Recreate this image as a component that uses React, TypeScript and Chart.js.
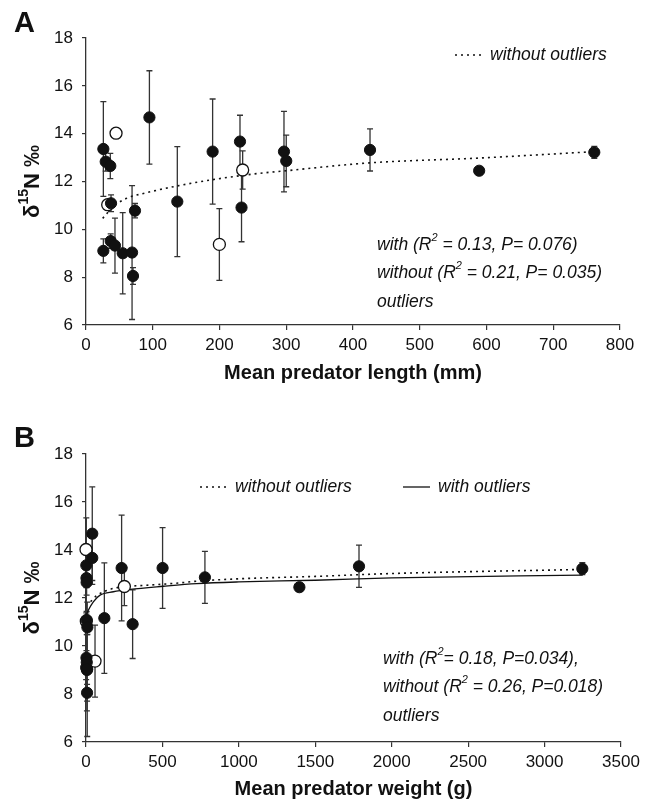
import React, { useEffect, useRef } from "react";
import { Chart, registerables } from "chart.js";
Chart.register(...registerables);

// ---- data ----
const lengthMm = [26, 29.5, 36.4, 37.5, 26, 37, 43.4, 55, 69, 70.4, 73.4, 95, 136.8, 189.7, 230.7, 233, 296.6, 300, 425.5, 589, 761.5, 45, 32.5, 199.8, 234.7];
const weightG = [2, 3, 4, 4, 1, 3, 5, 6, 8, 7, 9, 41, 120, 233, 41, 305, 501, 778, 1786, 1396, 3247, 0, 2, 59, 251];
const d15N = [13.36, 12.83, 12.65, 11.09, 9.1, 9.51, 9.32, 9.0, 9.03, 8.05, 10.78, 14.68, 11.16, 13.25, 13.67, 10.91, 13.25, 12.86, 13.32, 12.45, 13.22, 14.02, 11.03, 9.37, 12.48];
const sdN = [1.98, 0.4, 0.53, 0.35, 0.5, 0.3, 1.15, 1.7, 2.8, 0.35, 0.3, 1.95, 2.3, 2.2, 1.1, 1.43, 1.68, 1.08, 0.88, 0, 0.25, 0, 0, 1.5, 0.8];
const isOutlier = [0, 0, 0, 0, 0, 0, 0, 0, 0, 0, 0, 0, 0, 0, 0, 0, 0, 0, 0, 0, 0, 1, 1, 1, 1];

// fitted curves
const fitA_withoutX = [25, 43, 61, 86, 136, 186, 250, 300, 425, 589, 762];
const fitA_withoutY = [10.46, 11.0, 11.3, 11.5, 11.81, 12.06, 12.31, 12.45, 12.78, 12.98, 13.25];
const fitB_withX = [2, 15, 48, 92, 179, 288, 506, 724, 1000, 1500, 2000, 3250];
const fitB_withY = [11.3, 11.49, 11.84, 12.12, 12.26, 12.36, 12.49, 12.6, 12.67, 12.74, 12.84, 12.95];
const fitB_withoutX = [30, 70, 157, 244, 397, 615, 724, 1000, 1500, 2000, 3250];
const fitB_withoutY = [11.85, 12.1, 12.36, 12.47, 12.53, 12.63, 12.7, 12.8, 12.9, 13.02, 13.19];

const yTicks = [6, 8, 10, 12, 14, 16, 18];
const xTicksA = [0, 100, 200, 300, 400, 500, 600, 700, 800];
const xTicksB = [0, 500, 1000, 1500, 2000, 2500, 3000, 3500];

const FONT = '"Liberation Sans", Arial, Helvetica, sans-serif';
const INK = "#111";
const AXIS = "#333";

type Part = { t: string; sup?: boolean };

function drawRich(ctx: CanvasRenderingContext2D, parts: Part[], x: number, y: number, size: number, style: string, center = false) {
  const supSize = Math.round(size * 0.62);
  const widths = parts.map((p) => {
    ctx.font = `${style} ${p.sup ? supSize : size}px ${FONT}`;
    return ctx.measureText(p.t).width;
  });
  const total = widths.reduce((a, b) => a + b, 0);
  let cx = center ? x - total / 2 : x;
  parts.forEach((p, i) => {
    ctx.font = `${style} ${p.sup ? supSize : size}px ${FONT}`;
    ctx.textAlign = "left";
    ctx.textBaseline = "middle";
    ctx.fillText(p.t, cx, p.sup ? y - size * 0.38 : y);
    cx += widths[i];
  });
}

type Panel = {
  xs: number[];
  xMax: number;
  xTicks: number[];
  xTitle: string;
  letter: string;
  letterY: number;
  fits: { x: number[]; y: number[]; dotted: boolean }[];
  legend: { x1: number; x2: number; tx: number; y: number; dotted: boolean; label: string }[];
  note: { x: number; ys: number[]; lines: Part[][] };
  xTitleY: number;
  height: number;
  padTop: number;
  padRight: number;
  xAxisH: number;
};

function makeChart(canvas: HTMLCanvasElement, p: Panel) {
  const filled = p.xs.map((x, i) => ({ x, y: d15N[i] })).filter((_, i) => !isOutlier[i]);
  const open = p.xs.map((x, i) => ({ x, y: d15N[i] })).filter((_, i) => isOutlier[i]);

  const fitSets = p.fits.map((f) => ({
    type: "line" as const,
    data: f.x.map((x, i) => ({ x, y: f.y[i] })),
    showLine: true,
    borderColor: INK,
    borderWidth: f.dotted ? 1.6 : 1.3,
    borderDash: f.dotted ? [2, 4] : [],
    pointRadius: 0,
    cubicInterpolationMode: "monotone" as const,
    fill: false,
    order: 2,
  }));

  const errorBars = {
    id: "errorBars",
    beforeDatasetsDraw(chart: any) {
      const ctx = chart.ctx as CanvasRenderingContext2D;
      const xs = chart.scales.x;
      const ys = chart.scales.y;
      ctx.save();
      ctx.strokeStyle = AXIS;
      ctx.lineWidth = 1.3;
      p.xs.forEach((xv, i) => {
        const s = sdN[i];
        if (!s) return;
        const px = xs.getPixelForValue(xv);
        const top = ys.getPixelForValue(d15N[i] + s);
        const bot = ys.getPixelForValue(d15N[i] - s);
        ctx.beginPath();
        ctx.moveTo(px, top);
        ctx.lineTo(px, bot);
        ctx.moveTo(px - 3, top);
        ctx.lineTo(px + 3, top);
        ctx.moveTo(px - 3, bot);
        ctx.lineTo(px + 3, bot);
        ctx.stroke();
      });
      ctx.restore();
    },
  };

  const texts = {
    id: "texts",
    afterDraw(chart: any) {
      const ctx = chart.ctx as CanvasRenderingContext2D;
      const area = chart.chartArea;
      ctx.save();
      ctx.fillStyle = INK;
      // panel letter
      ctx.font = `bold 29px ${FONT}`;
      ctx.textAlign = "left";
      ctx.textBaseline = "alphabetic";
      ctx.fillText(p.letter, 14, p.letterY);
      // x title
      ctx.font = `bold 20px ${FONT}`;
      ctx.textAlign = "center";
      ctx.textBaseline = "middle";
      ctx.fillText(p.xTitle, (area.left + area.right) / 2, p.xTitleY);
      // y title
      ctx.save();
      ctx.translate(33, (area.top + area.bottom) / 2);
      ctx.rotate(-Math.PI / 2);
      drawRich(ctx, [{ t: "δ" }, { t: "15", sup: true }, { t: "N ‰" }], 0, 0, 22, "bold", true);
      ctx.restore();
      // legend
      p.legend.forEach((l) => {
        ctx.save();
        ctx.strokeStyle = INK;
        ctx.lineWidth = l.dotted ? 1.6 : 1.3;
        ctx.setLineDash(l.dotted ? [2, 4] : []);
        ctx.beginPath();
        ctx.moveTo(l.x1, l.y);
        ctx.lineTo(l.x2, l.y);
        ctx.stroke();
        ctx.restore();
        drawRich(ctx, [{ t: l.label }], l.tx, l.y, 17.5, "italic");
      });
      // annotation
      p.note.lines.forEach((ln, i) => drawRich(ctx, ln, p.note.x, p.note.ys[i], 17.5, "italic"));
      ctx.restore();
    },
  };

  const tickFont = { family: FONT, size: 17 };

  return new Chart(canvas, {
    type: "scatter",
    data: {
      datasets: [
        {
          data: filled,
          pointRadius: 5.6,
          pointBackgroundColor: INK,
          pointBorderColor: INK,
          pointBorderWidth: 1,
          clip: false,
          order: 0,
        },
        {
          data: open,
          pointRadius: 6,
          pointBackgroundColor: "#fff",
          pointBorderColor: INK,
          pointBorderWidth: 1.3,
          clip: false,
          order: 1,
        },
        ...fitSets,
      ] as any,
    },
    options: {
      responsive: false,
      animation: false,
      events: [],
      layout: { padding: { left: 0, right: p.padRight, top: p.padTop, bottom: 0 } },
      plugins: { legend: { display: false }, tooltip: { enabled: false }, title: { display: false } },
      scales: {
        x: {
          type: "linear",
          min: 0,
          max: p.xMax,
          afterBuildTicks: (s: any) => {
            s.ticks = p.xTicks.map((v) => ({ value: v }));
          },
          afterFit: (s: any) => {
            s.height = p.xAxisH;
          },
          ticks: { font: tickFont, color: INK, padding: 5, maxRotation: 0, autoSkip: false, callback: (v: any) => String(v) },
          grid: { display: true, drawOnChartArea: false, drawTicks: true, tickLength: 5, color: AXIS, lineWidth: 1.2 },
          border: { display: true, color: AXIS, width: 1.3 },
        },
        y: {
          type: "linear",
          min: 6,
          max: 18,
          afterBuildTicks: (s: any) => {
            s.ticks = yTicks.map((v) => ({ value: v }));
          },
          afterFit: (s: any) => {
            s.width = 86;
          },
          ticks: { font: tickFont, color: INK, padding: 9, autoSkip: false, callback: (v: any) => String(v) },
          grid: { display: true, drawOnChartArea: false, drawTicks: true, tickLength: 4, color: AXIS, lineWidth: 1.2 },
          border: { display: true, color: AXIS, width: 1.3 },
        },
      },
    } as any,
    plugins: [errorBars, texts],
  });
}

const panelA: Panel = {
  xs: lengthMm,
  xMax: 800,
  xTicks: xTicksA,
  xTitle: "Mean predator length (mm)",
  letter: "A",
  letterY: 32,
  fits: [{ x: fitA_withoutX, y: fitA_withoutY, dotted: true }],
  legend: [{ x1: 455, x2: 482, tx: 490, y: 55, dotted: true, label: "without outliers" }],
  note: {
    x: 377,
    ys: [245, 273, 302],
    lines: [
      [{ t: "with (R" }, { t: "2", sup: true }, { t: " = 0.13, P= 0.076)" }],
      [{ t: "without (R" }, { t: "2", sup: true }, { t: " = 0.21, P= 0.035)" }],
      [{ t: "outliers" }],
    ],
  },
  xTitleY: 373,
  height: 390,
  padTop: 38,
  padRight: 30,
  xAxisH: 65,
};

const panelB: Panel = {
  xs: weightG,
  xMax: 3500,
  xTicks: xTicksB,
  xTitle: "Mean predator weight (g)",
  letter: "B",
  letterY: 57,
  fits: [
    { x: fitB_withoutX, y: fitB_withoutY, dotted: true },
    { x: fitB_withX, y: fitB_withY, dotted: false },
  ],
  legend: [
    { x1: 200, x2: 227, tx: 235, y: 97, dotted: true, label: "without outliers" },
    { x1: 403, x2: 430, tx: 438, y: 97, dotted: false, label: "with outliers" },
  ],
  note: {
    x: 383,
    ys: [269, 297, 326],
    lines: [
      [{ t: "with (R" }, { t: "2", sup: true }, { t: "= 0.18, P=0.034)," }],
      [{ t: "without (R" }, { t: "2", sup: true }, { t: " = 0.26, P=0.018)" }],
      [{ t: "outliers" }],
    ],
  },
  xTitleY: 399,
  height: 415,
  padTop: 64,
  padRight: 29,
  xAxisH: 63,
};

function PanelChart({ panel, top }: { panel: Panel; top: number }) {
  const ref = useRef<HTMLCanvasElement | null>(null);
  useEffect(() => {
    if (!ref.current) return;
    const c = makeChart(ref.current, panel);
    return () => c.destroy();
  }, [panel]);
  return (
    <canvas
      ref={ref}
      width={650}
      height={panel.height}
      style={{ position: "absolute", left: 0, top, width: 650, height: panel.height, display: "block" }}
    />
  );
}

export default function App() {
  return (
    <div style={{ position: "absolute", left: 0, top: 0, width: 650, height: 805, background: "#fff", overflow: "hidden" }}>
      <PanelChart panel={panelA} top={0} />
      <PanelChart panel={panelB} top={390} />
    </div>
  );
}
